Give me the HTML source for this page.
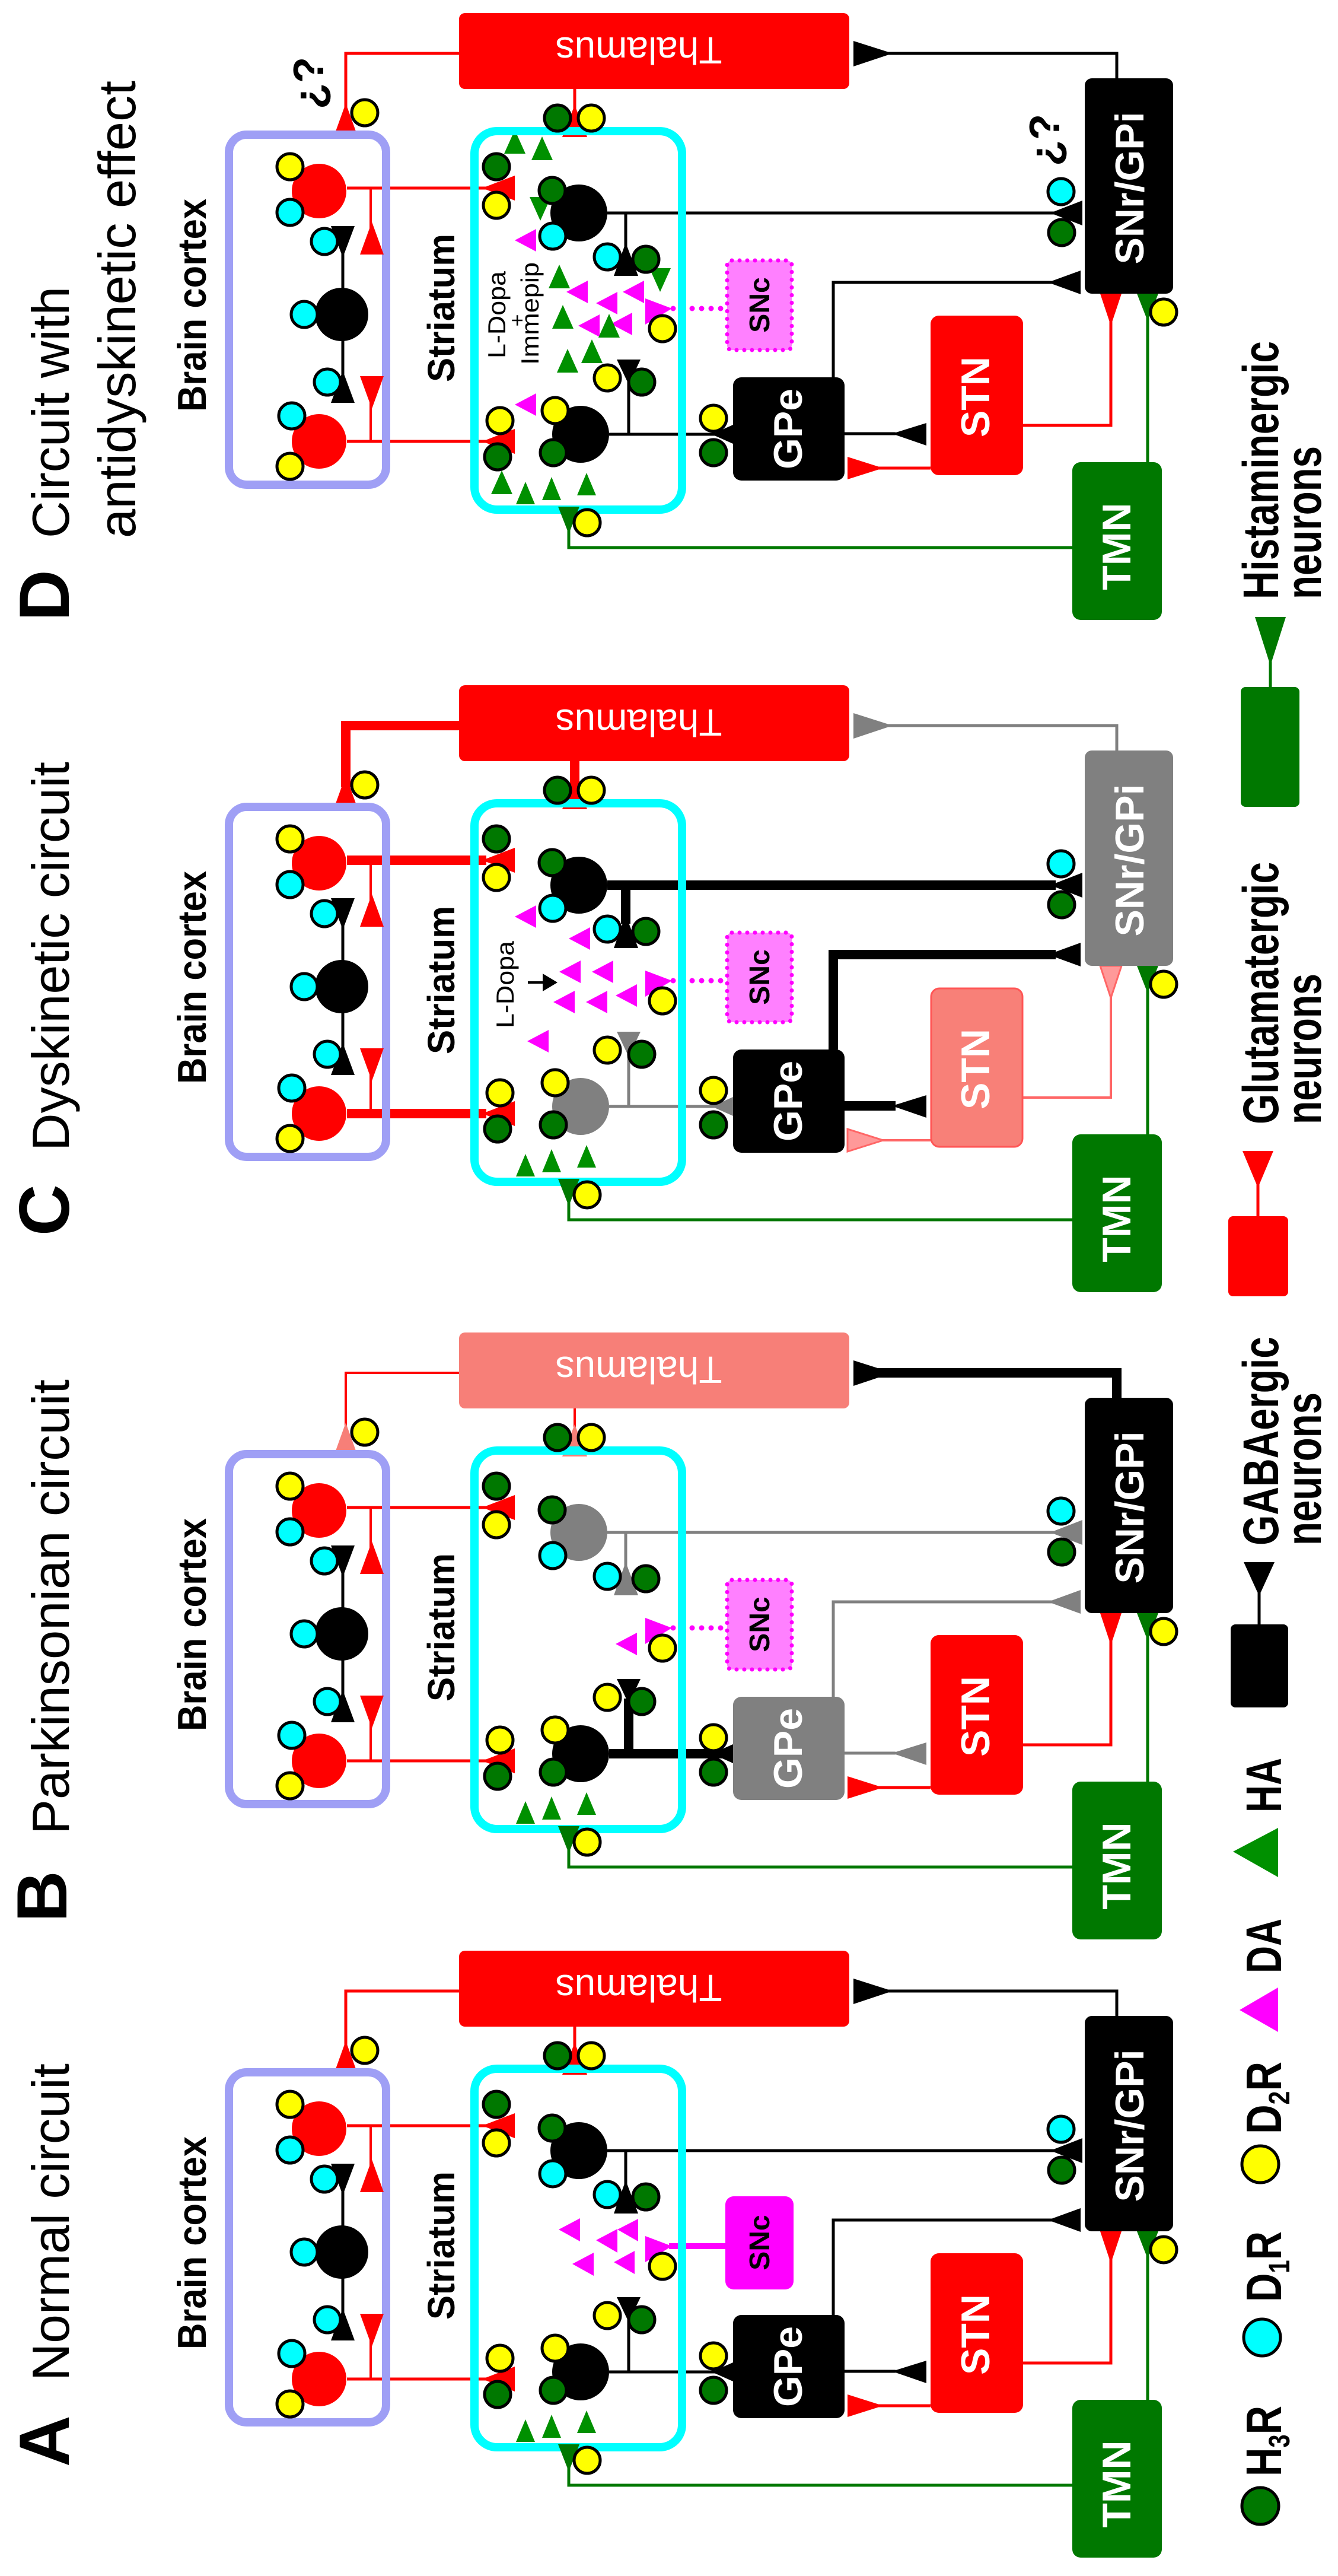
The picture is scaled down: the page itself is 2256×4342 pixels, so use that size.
<!DOCTYPE html>
<html><head><meta charset="utf-8"><style>
html,body{margin:0;padding:0;background:#fff}
svg{display:block}
text{font-family:"Liberation Sans",Arial,sans-serif}
.y{fill:#ffff00;stroke:#000;stroke-width:5}
.c{fill:#00ffff;stroke:#000;stroke-width:5}
.g{fill:#007800;stroke:#000;stroke-width:5}
</style></head><body>
<svg width="2256" height="4342" viewBox="0 0 2256 4342" xmlns="http://www.w3.org/2000/svg">
<defs>
<g id="base">
  <!-- cortex -->
  <rect x="386" y="3493" width="265" height="590" rx="30" fill="none" stroke="#9f9ff5" stroke-width="14"/>
  <line x1="578" y1="3670" x2="578" y2="3929" stroke="#000" stroke-width="5"/>
  <polygon points="558,3647 598,3647 578,3700" fill="#000"/>
  <polygon points="558,3945 598,3945 578,3891" fill="#000"/>
  <line x1="625" y1="3583" x2="625" y2="3660" stroke="#f00" stroke-width="4"/>
  <line x1="625" y1="3930" x2="625" y2="4010" stroke="#f00" stroke-width="4"/>
  <polygon points="627,3640 607,3695 647,3695" fill="#f00"/>
  <polygon points="607,3900 647,3900 627,3955" fill="#f00"/>
  <circle cx="538" cy="3588" r="46" fill="#f00"/>
  <circle cx="538" cy="4010" r="46" fill="#f00"/>
  <circle cx="576" cy="3796" r="45" fill="#000"/>
  <!-- striatum -->
  <rect x="800" y="3487" width="350" height="638" rx="38" fill="none" stroke="#00ffff" stroke-width="14"/>
  <!-- HA -->
  <polygon points="886,4078 870,4116 902,4116" fill="#009000"/>
  <polygon points="930,4070 914,4109 946,4109" fill="#009000"/>
  <polygon points="989,4063 973,4101 1005,4101" fill="#009000"/>
  <!-- TMN -->
  <polyline points="1808,4189 959,4189 959,4150" fill="none" stroke="#007800" stroke-width="5"/>
  <polygon points="959,4166 941,4120 977,4120" fill="#007800"/>
  <line x1="1935" y1="4045" x2="1935" y2="3800" stroke="#007800" stroke-width="5"/>
  <polygon points="1935,3807 1917,3761 1953,3761" fill="#007800"/>
  <rect x="1808" y="4045" width="151" height="266" rx="14" fill="#007800"/>
</g>
<g id="rec">
  <circle class="y" cx="489" cy="3547" r="22"/><circle class="c" cx="489" cy="3624" r="22"/>
  <circle class="c" cx="492" cy="3967" r="22"/><circle class="y" cx="489" cy="4052" r="22"/>
  <circle class="c" cx="513" cy="3796" r="22"/><circle class="c" cx="547" cy="3673" r="22"/>
  <circle class="c" cx="552" cy="3910" r="22"/>
  <circle class="y" cx="615" cy="3456" r="22"/>
  <circle class="g" cx="940" cy="3465" r="22"/><circle class="y" cx="997" cy="3465" r="22"/>
  <circle class="g" cx="837" cy="3547" r="22"/><circle class="y" cx="837" cy="3612" r="22"/>
  <circle class="y" cx="843" cy="3975" r="22"/><circle class="g" cx="839" cy="4036" r="22"/>
  <circle class="g" cx="931" cy="3587" r="22"/><circle class="c" cx="932" cy="3664" r="22"/>
  <circle class="c" cx="1024" cy="3699" r="22"/><circle class="g" cx="1089" cy="3703" r="22"/>
  <circle class="y" cx="936" cy="3958" r="22"/><circle class="g" cx="933" cy="4029" r="22"/>
  <circle class="y" cx="1024" cy="3903" r="22"/><circle class="g" cx="1082" cy="3910" r="22"/>
  <circle class="y" cx="1203" cy="3971" r="22"/><circle class="g" cx="1203" cy="4029" r="22"/>
  <circle class="c" cx="1789" cy="3589" r="22"/><circle class="g" cx="1790" cy="3658" r="22"/>
  <circle class="y" cx="1117" cy="3820" r="22"/>
  <circle class="y" cx="990" cy="4147" r="22"/>
  <circle class="y" cx="1962" cy="3792" r="22"/>
</g>
</defs>

<!-- ================= PANEL A ================= -->
<g>
  <g fill="none" stroke="#f00" stroke-width="5">
    <polyline points="774,3356 583,3356 583,3460"/>
    <line x1="969" y1="3416" x2="969" y2="3460"/>
    <line x1="585" y1="3583" x2="820" y2="3583"/><line x1="585" y1="4010" x2="820" y2="4010"/>
    <polyline points="1725,3983 1873,3983 1873,3800"/>
    <line x1="1569" y1="4055" x2="1470" y2="4055"/>
  </g>
  <g fill="#f00">
    <polygon points="583,3440 565,3490 601,3490"/><polygon points="969,3443 948,3497 990,3497"/>
    <polygon points="813,3583 868,3562 868,3604"/><polygon points="813,4010 868,3989 868,4031"/>
    <polygon points="1873,3815 1855,3761 1891,3761"/><polygon points="1429,4036 1429,4074 1489,4055"/>
  </g>
  <g fill="none" stroke="#000" stroke-width="5">
    <line x1="1024" y1="3625" x2="1780" y2="3625"/><line x1="1055" y1="3625" x2="1055" y2="3690"/>
    <line x1="1027" y1="3998" x2="1236" y2="3998"/><line x1="1060" y1="3998" x2="1060" y2="3900"/>
    <polyline points="1883,3398 1883,3356 1460,3356"/>
    <polyline points="1405,3902 1405,3742 1780,3742"/>
    <line x1="1424" y1="3997" x2="1510" y2="3997"/>
  </g>
  <g fill="#000">
    <polygon points="1771,3625 1825,3604 1825,3646"/><polygon points="1055,3675 1035,3731 1076,3731"/>
    <polygon points="1200,3998 1236,3982 1236,4014"/><polygon points="1060,3914 1040,3872 1080,3872"/>
    <polygon points="1439,3335 1439,3378 1505,3356"/><polygon points="1767,3742 1822,3722 1822,3762"/>
    <polygon points="1504,3997 1562,3979 1562,4017"/>
  </g>
  <line x1="1128" y1="3786" x2="1223" y2="3786" stroke="#ff00ff" stroke-width="10"/>
  <polygon points="1088,3769 1088,3813 1133,3786" fill="#ff00ff"/>
  <g fill="#ff00ff">
    <polygon points="942,3758 978,3739 978,3778"/><polygon points="1005,3776 1041,3757 1041,3797"/>
    <polygon points="1041,3758 1076,3740 1076,3778"/><polygon points="965,3816 1001,3797 1001,3836"/>
    <polygon points="1035,3813 1070,3794 1070,3833"/>
  </g>
  <use href="#base"/>
  <circle cx="976" cy="3625" r="48" fill="#000"/><circle cx="979" cy="3998" r="48" fill="#000"/>
  <rect x="774" y="3288" width="658" height="128" rx="10" fill="#f00"/>
  <rect x="1829" y="3398" width="149" height="363" rx="12" fill="#000"/>
  <rect x="1236" y="3902" width="188" height="174" rx="14" fill="#000"/>
  <rect x="1569" y="3798" width="156" height="269" rx="14" fill="#f00"/>
  <rect x="1223" y="3702" width="115" height="157" rx="14" fill="#ff00ff"/>
  <use href="#rec"/>
  <text transform="translate(1077,3329) rotate(180)" font-size="64" fill="#fff" text-anchor="middle">Thalamus</text>
  <text transform="translate(1928,3583) rotate(-90)" font-size="68" font-weight="bold" fill="#fff" text-anchor="middle">SNr/GPi</text>
  <text transform="translate(1352,3989) rotate(-90)" font-size="68" font-weight="bold" fill="#fff" text-anchor="middle">GPe</text>
  <text transform="translate(1668,3935) rotate(-90)" font-size="68" font-weight="bold" fill="#fff" text-anchor="middle">STN</text>
  <text transform="translate(1297,3780) rotate(-90)" font-size="48" font-weight="bold" fill="#000" text-anchor="middle">SNc</text>
  <text transform="translate(1906,4187) rotate(-90)" font-size="68" font-weight="bold" fill="#fff" text-anchor="middle">TMN</text>
  <text transform="translate(347,3960) rotate(-90)" font-size="68" font-weight="bold" textLength="359" lengthAdjust="spacingAndGlyphs">Brain cortex</text>
  <text transform="translate(766,3910) rotate(-90)" font-size="64" font-weight="bold" textLength="250" lengthAdjust="spacingAndGlyphs">Striatum</text>
</g>

<!-- ================= PANEL B ================= -->
<g transform="translate(0,-1042)">
  <g fill="none" stroke="#f00" stroke-width="4">
    <polyline points="774,3356 583,3356 583,3460"/>
    <line x1="969" y1="3330" x2="969" y2="3460"/>
  </g>
  <g fill="none" stroke="#f00" stroke-width="5">
    <line x1="585" y1="3583" x2="820" y2="3583"/><line x1="585" y1="4010" x2="820" y2="4010"/>
    <polyline points="1725,3983 1873,3983 1873,3800"/>
    <line x1="1569" y1="4055" x2="1470" y2="4055"/>
  </g>
  <g fill="#f77f78">
    <polygon points="583,3440 565,3490 601,3490"/><polygon points="969,3443 948,3497 990,3497"/>
  </g>
  <g fill="#f00">
    <polygon points="813,3583 868,3562 868,3604"/><polygon points="813,4010 868,3989 868,4031"/>
    <polygon points="1873,3815 1855,3761 1891,3761"/><polygon points="1429,4036 1429,4074 1489,4055"/>
  </g>
  <g fill="none" stroke="#808080" stroke-width="5">
    <line x1="1024" y1="3625" x2="1780" y2="3625"/><line x1="1055" y1="3625" x2="1055" y2="3690"/>
    <polyline points="1405,3902 1405,3742 1780,3742"/>
    <line x1="1424" y1="3997" x2="1510" y2="3997"/>
  </g>
  <g fill="#808080">
    <polygon points="1771,3625 1825,3604 1825,3646"/><polygon points="1055,3675 1035,3731 1076,3731"/>
    <polygon points="1767,3742 1822,3722 1822,3762"/><polygon points="1504,3997 1562,3979 1562,4017"/>
  </g>
  <g fill="none" stroke="#000" stroke-width="16">
    <line x1="1027" y1="3998" x2="1225" y2="3998"/><line x1="1060" y1="3998" x2="1060" y2="3905"/>
    <polyline points="1883,3398 1883,3356 1470,3356"/>
  </g>
  <g fill="#000">
    <polygon points="1200,3998 1236,3982 1236,4014"/><polygon points="1060,3914 1040,3872 1080,3872"/>
    <polygon points="1439,3335 1439,3378 1505,3356"/>
  </g>
  <line x1="1135" y1="3786" x2="1223" y2="3786" stroke="#ff00ff" stroke-width="9" stroke-dasharray="0 16" stroke-linecap="round"/>
  <polygon points="1088,3769 1088,3813 1133,3786" fill="#ff00ff"/>
  <polygon points="1038,3813 1074,3794 1074,3832" fill="#ff00ff"/>
  <use href="#base"/>
  <circle cx="976" cy="3625" r="48" fill="#808080"/><circle cx="979" cy="3998" r="48" fill="#000"/>
  <rect x="774" y="3288" width="658" height="128" rx="10" fill="#f77f78"/>
  <rect x="1829" y="3398" width="149" height="363" rx="12" fill="#000"/>
  <rect x="1236" y="3902" width="188" height="174" rx="14" fill="#808080"/>
  <rect x="1569" y="3798" width="156" height="269" rx="14" fill="#f00"/>
  <rect x="1226" y="3705" width="109" height="151" rx="8" fill="#ff80ff" stroke="#ff00ff" stroke-width="7" stroke-dasharray="0 13" stroke-linecap="round"/>
  <use href="#rec"/>
  <text transform="translate(1077,3329) rotate(180)" font-size="64" fill="#fff" text-anchor="middle">Thalamus</text>
  <text transform="translate(1928,3583) rotate(-90)" font-size="68" font-weight="bold" fill="#fff" text-anchor="middle">SNr/GPi</text>
  <text transform="translate(1352,3989) rotate(-90)" font-size="68" font-weight="bold" fill="#fff" text-anchor="middle">GPe</text>
  <text transform="translate(1668,3935) rotate(-90)" font-size="68" font-weight="bold" fill="#fff" text-anchor="middle">STN</text>
  <text transform="translate(1297,3780) rotate(-90)" font-size="48" font-weight="bold" fill="#000" text-anchor="middle">SNc</text>
  <text transform="translate(1906,4187) rotate(-90)" font-size="68" font-weight="bold" fill="#fff" text-anchor="middle">TMN</text>
  <text transform="translate(347,3960) rotate(-90)" font-size="68" font-weight="bold" textLength="359" lengthAdjust="spacingAndGlyphs">Brain cortex</text>
  <text transform="translate(766,3910) rotate(-90)" font-size="64" font-weight="bold" textLength="250" lengthAdjust="spacingAndGlyphs">Striatum</text>
</g>

<!-- ================= PANEL C ================= -->
<g transform="translate(0,-2133)">
  <g fill="none" stroke="#f00" stroke-width="16">
    <polyline points="774,3356 583,3356 583,3460"/>
    <line x1="969" y1="3416" x2="969" y2="3460"/>
    <line x1="585" y1="3583" x2="820" y2="3583"/><line x1="585" y1="4010" x2="820" y2="4010"/>
  </g>
  <g fill="#f00">
    <polygon points="583,3440 565,3490 601,3490"/><polygon points="969,3443 948,3497 990,3497"/>
    <polygon points="813,3583 868,3562 868,3604"/><polygon points="813,4010 868,3989 868,4031"/>
  </g>
  <g fill="none" stroke="#f66" stroke-width="4">
    <polyline points="1725,3983 1873,3983 1873,3800"/>
    <line x1="1569" y1="4055" x2="1470" y2="4055"/>
  </g>
  <g fill="#f99" stroke="#f66" stroke-width="3">
    <polygon points="1873,3815 1855,3761 1891,3761"/><polygon points="1429,4036 1429,4074 1489,4055"/>
  </g>
  <g fill="none" stroke="#000" stroke-width="16">
    <line x1="1024" y1="3625" x2="1780" y2="3625"/><line x1="1055" y1="3625" x2="1055" y2="3690"/>
    <polyline points="1405,3902 1405,3742 1780,3742"/>
    <line x1="1424" y1="3997" x2="1510" y2="3997"/>
  </g>
  <g fill="#000">
    <polygon points="1771,3625 1825,3604 1825,3646"/><polygon points="1055,3675 1035,3731 1076,3731"/>
    <polygon points="1767,3742 1822,3722 1822,3762"/><polygon points="1504,3997 1562,3979 1562,4017"/>
  </g>
  <g fill="none" stroke="#808080" stroke-width="5">
    <line x1="1027" y1="3998" x2="1236" y2="3998"/><line x1="1060" y1="3998" x2="1060" y2="3900"/>
    <polyline points="1883,3398 1883,3356 1460,3356"/>
  </g>
  <g fill="#808080">
    <polygon points="1200,3998 1236,3982 1236,4014"/><polygon points="1060,3914 1040,3872 1080,3872"/>
    <polygon points="1439,3335 1439,3378 1505,3356"/>
  </g>
  <line x1="1135" y1="3786" x2="1223" y2="3786" stroke="#ff00ff" stroke-width="9" stroke-dasharray="0 16" stroke-linecap="round"/>
  <polygon points="1088,3769 1088,3813 1133,3786" fill="#ff00ff"/>
  <g fill="#ff00ff">
    <polygon points="868,3678 904,3659 904,3697"/><polygon points="959,3715 995,3696 995,3734"/>
    <polygon points="943,3771 979,3752 979,3790"/><polygon points="998,3771 1034,3752 1034,3790"/>
    <polygon points="933,3822 969,3803 969,3841"/><polygon points="988,3822 1024,3803 1024,3841"/>
    <polygon points="1038,3811 1074,3792 1074,3830"/><polygon points="889,3888 925,3869 925,3907"/>
  </g>
  <line x1="890" y1="3789" x2="922" y2="3789" stroke="#000" stroke-width="4"/>
  <polygon points="940,3789 915,3774 915,3804" fill="#000"/>
  <use href="#base"/>
  <circle cx="976" cy="3625" r="48" fill="#000"/><circle cx="979" cy="3998" r="48" fill="#808080"/>
  <rect x="774" y="3288" width="658" height="128" rx="10" fill="#f00"/>
  <rect x="1829" y="3398" width="149" height="363" rx="12" fill="#808080"/>
  <rect x="1236" y="3902" width="188" height="174" rx="14" fill="#000"/>
  <rect x="1570" y="3799" width="154" height="267" rx="14" fill="#f88078" stroke="#f55" stroke-width="3"/>
  <rect x="1226" y="3705" width="109" height="151" rx="8" fill="#ff80ff" stroke="#ff00ff" stroke-width="7" stroke-dasharray="0 13" stroke-linecap="round"/>
  <use href="#rec"/>
  <text transform="translate(1077,3329) rotate(180)" font-size="64" fill="#fff" text-anchor="middle">Thalamus</text>
  <text transform="translate(1928,3583) rotate(-90)" font-size="68" font-weight="bold" fill="#fff" text-anchor="middle">SNr/GPi</text>
  <text transform="translate(1352,3989) rotate(-90)" font-size="68" font-weight="bold" fill="#fff" text-anchor="middle">GPe</text>
  <text transform="translate(1668,3935) rotate(-90)" font-size="68" font-weight="bold" fill="#fff" text-anchor="middle">STN</text>
  <text transform="translate(1297,3780) rotate(-90)" font-size="48" font-weight="bold" fill="#000" text-anchor="middle">SNc</text>
  <text transform="translate(1906,4187) rotate(-90)" font-size="68" font-weight="bold" fill="#fff" text-anchor="middle">TMN</text>
  <text transform="translate(347,3960) rotate(-90)" font-size="68" font-weight="bold" textLength="359" lengthAdjust="spacingAndGlyphs">Brain cortex</text>
  <text transform="translate(766,3910) rotate(-90)" font-size="64" font-weight="bold" textLength="250" lengthAdjust="spacingAndGlyphs">Striatum</text>
  <text transform="translate(866,3866) rotate(-90)" font-size="42" textLength="147" lengthAdjust="spacingAndGlyphs">L-Dopa</text>
</g>

<!-- ================= PANEL D ================= -->
<g transform="translate(0,-3266)">
  <g fill="none" stroke="#f00" stroke-width="5">
    <polyline points="774,3356 583,3356 583,3460"/>
    <line x1="969" y1="3416" x2="969" y2="3460"/>
    <line x1="585" y1="3583" x2="820" y2="3583"/><line x1="585" y1="4010" x2="820" y2="4010"/>
    <polyline points="1725,3983 1873,3983 1873,3800"/>
    <line x1="1569" y1="4055" x2="1470" y2="4055"/>
  </g>
  <g fill="#f00">
    <polygon points="583,3440 565,3490 601,3490"/><polygon points="969,3443 948,3497 990,3497"/>
    <polygon points="813,3583 868,3562 868,3604"/><polygon points="813,4010 868,3989 868,4031"/>
    <polygon points="1873,3815 1855,3761 1891,3761"/><polygon points="1429,4036 1429,4074 1489,4055"/>
  </g>
  <g fill="none" stroke="#000" stroke-width="5">
    <line x1="1024" y1="3625" x2="1780" y2="3625"/><line x1="1055" y1="3625" x2="1055" y2="3690"/>
    <line x1="1027" y1="3998" x2="1236" y2="3998"/><line x1="1060" y1="3998" x2="1060" y2="3900"/>
    <polyline points="1883,3398 1883,3356 1460,3356"/>
    <polyline points="1405,3902 1405,3742 1780,3742"/>
    <line x1="1424" y1="3997" x2="1510" y2="3997"/>
  </g>
  <g fill="#000">
    <polygon points="1771,3625 1825,3604 1825,3646"/><polygon points="1055,3675 1035,3731 1076,3731"/>
    <polygon points="1200,3998 1236,3982 1236,4014"/><polygon points="1060,3914 1040,3872 1080,3872"/>
    <polygon points="1439,3335 1439,3378 1505,3356"/><polygon points="1767,3742 1822,3722 1822,3762"/>
    <polygon points="1504,3997 1562,3979 1562,4017"/>
  </g>
  <line x1="1135" y1="3786" x2="1223" y2="3786" stroke="#ff00ff" stroke-width="9" stroke-dasharray="0 16" stroke-linecap="round"/>
  <polygon points="1088,3769 1088,3813 1133,3786" fill="#ff00ff"/>
  <g fill="#ff00ff">
    <polygon points="868,3671 904,3652 904,3690"/><polygon points="955,3758 991,3739 991,3777"/>
    <polygon points="1005,3777 1041,3758 1041,3796"/><polygon points="1050,3758 1086,3739 1086,3777"/>
    <polygon points="975,3815 1011,3796 1011,3834"/><polygon points="1030,3812 1066,3793 1066,3831"/>
    <polygon points="868,3948 904,3929 904,3967"/>
  </g>
  <g fill="#009000">
    <polygon points="868,3485 850,3525 886,3525"/><polygon points="914,3496 896,3536 932,3536"/>
    <polygon points="911,3638 893,3598 929,3598"/><polygon points="943,3712 925,3752 961,3752"/>
    <polygon points="949,3780 931,3820 967,3820"/><polygon points="1027,3795 1009,3835 1045,3835"/>
    <polygon points="998,3838 980,3878 1016,3878"/><polygon points="957,3854 939,3894 975,3894"/>
    <polygon points="1113,3758 1095,3718 1131,3718"/><polygon points="846,4059 828,4099 864,4099"/>
  </g>
  <use href="#base"/>
  <circle cx="976" cy="3625" r="48" fill="#000"/><circle cx="979" cy="3998" r="48" fill="#000"/>
  <rect x="774" y="3288" width="658" height="128" rx="10" fill="#f00"/>
  <rect x="1829" y="3398" width="149" height="363" rx="12" fill="#000"/>
  <rect x="1236" y="3902" width="188" height="174" rx="14" fill="#000"/>
  <rect x="1569" y="3798" width="156" height="269" rx="14" fill="#f00"/>
  <rect x="1226" y="3705" width="109" height="151" rx="8" fill="#ff80ff" stroke="#ff00ff" stroke-width="7" stroke-dasharray="0 13" stroke-linecap="round"/>
  <use href="#rec"/>
  <text transform="translate(1077,3329) rotate(180)" font-size="64" fill="#fff" text-anchor="middle">Thalamus</text>
  <text transform="translate(1928,3583) rotate(-90)" font-size="68" font-weight="bold" fill="#fff" text-anchor="middle">SNr/GPi</text>
  <text transform="translate(1352,3989) rotate(-90)" font-size="68" font-weight="bold" fill="#fff" text-anchor="middle">GPe</text>
  <text transform="translate(1668,3935) rotate(-90)" font-size="68" font-weight="bold" fill="#fff" text-anchor="middle">STN</text>
  <text transform="translate(1297,3780) rotate(-90)" font-size="48" font-weight="bold" fill="#000" text-anchor="middle">SNc</text>
  <text transform="translate(1906,4187) rotate(-90)" font-size="68" font-weight="bold" fill="#fff" text-anchor="middle">TMN</text>
  <text transform="translate(347,3960) rotate(-90)" font-size="68" font-weight="bold" textLength="359" lengthAdjust="spacingAndGlyphs">Brain cortex</text>
  <text transform="translate(766,3910) rotate(-90)" font-size="64" font-weight="bold" textLength="250" lengthAdjust="spacingAndGlyphs">Striatum</text>
  <text transform="translate(852,3870) rotate(-90)" font-size="42" textLength="147" lengthAdjust="spacingAndGlyphs">L-Dopa</text>
  <text transform="translate(884,3806) rotate(-90)" font-size="36" text-anchor="middle">+</text>
  <text transform="translate(908,3881) rotate(-90)" font-size="42" textLength="173" lengthAdjust="spacingAndGlyphs">Immepip</text>
  <text transform="translate(545,3450) rotate(-90)" font-size="72" font-weight="bold">¿?</text>
  <text transform="translate(1786,3546) rotate(-90)" font-size="72" font-weight="bold">¿?</text>
</g>

<!-- ================= TITLES ================= -->
<g font-size="120" font-weight="bold">
  <text transform="translate(116,4158) rotate(-90)">A</text>
  <text transform="translate(112,3240) rotate(-90)">B</text>
  <text transform="translate(116,2083) rotate(-90)">C</text>
  <text transform="translate(116,1047) rotate(-90)">D</text>
</g>
<g font-size="88">
  <text transform="translate(116,4013) rotate(-90)" textLength="535" lengthAdjust="spacingAndGlyphs">Normal circuit</text>
  <text transform="translate(116,3092) rotate(-90)" textLength="767" lengthAdjust="spacingAndGlyphs">Parkinsonian circuit</text>
  <text transform="translate(116,1940) rotate(-90)" textLength="656" lengthAdjust="spacingAndGlyphs">Dyskinetic circuit</text>
  <text transform="translate(116,907) rotate(-90)" textLength="424" lengthAdjust="spacingAndGlyphs">Circuit with</text>
  <text transform="translate(228,907) rotate(-90)" textLength="771" lengthAdjust="spacingAndGlyphs">antidyskinetic effect</text>
</g>

<!-- ================= LEGEND ================= -->
<circle class="g" cx="2125" cy="4224" r="31"/>
<circle class="c" cx="2128" cy="3940" r="31"/>
<circle class="y" cx="2125" cy="3648" r="31"/>
<polygon points="2090,3388 2155,3350 2155,3425" fill="#ff00ff"/>
<polygon points="2079,3121 2155,3081 2155,3164" fill="#009000"/>
<g font-size="84" font-weight="bold">
  <text transform="translate(2160,4174) rotate(-90)" textLength="119" lengthAdjust="spacingAndGlyphs">H<tspan font-size="50" dy="14">3</tspan><tspan dy="-14">R</tspan></text>
  <text transform="translate(2160,3880) rotate(-90)" textLength="119" lengthAdjust="spacingAndGlyphs">D<tspan font-size="50" dy="14">1</tspan><tspan dy="-14">R</tspan></text>
  <text transform="translate(2160,3597) rotate(-90)" textLength="122" lengthAdjust="spacingAndGlyphs">D<tspan font-size="50" dy="14">2</tspan><tspan dy="-14">R</tspan></text>
  <text transform="translate(2160,3326) rotate(-90)" textLength="92" lengthAdjust="spacingAndGlyphs">DA</text>
  <text transform="translate(2160,3055) rotate(-90)" textLength="92" lengthAdjust="spacingAndGlyphs">HA</text>
  <text transform="translate(2155,2605) rotate(-90)" textLength="352" lengthAdjust="spacingAndGlyphs">GABAergic</text>
  <text transform="translate(2227,2605) rotate(-90)" textLength="258" lengthAdjust="spacingAndGlyphs">neurons</text>
  <text transform="translate(2155,1895) rotate(-90)" textLength="442" lengthAdjust="spacingAndGlyphs">Glutamatergic</text>
  <text transform="translate(2227,1895) rotate(-90)" textLength="254" lengthAdjust="spacingAndGlyphs">neurons</text>
  <text transform="translate(2155,1010) rotate(-90)" textLength="435" lengthAdjust="spacingAndGlyphs">Histaminergic</text>
  <text transform="translate(2227,1010) rotate(-90)" textLength="258" lengthAdjust="spacingAndGlyphs">neurons</text>
</g>
<rect x="2075" y="2738" width="97" height="140" rx="8" fill="#000"/>
<line x1="2123" y1="2685" x2="2123" y2="2740" stroke="#000" stroke-width="5"/>
<polygon points="2097,2633 2149,2633 2123,2690" fill="#000"/>
<rect x="2071" y="2050" width="101" height="135" rx="8" fill="#f00"/>
<line x1="2121" y1="1995" x2="2121" y2="2052" stroke="#f00" stroke-width="5"/>
<polygon points="2095,1940 2147,1940 2121,2002" fill="#f00"/>
<rect x="2092" y="1158" width="99" height="202" rx="8" fill="#007800"/>
<line x1="2142" y1="1115" x2="2142" y2="1160" stroke="#007800" stroke-width="5"/>
<polygon points="2116,1040 2168,1040 2142,1122" fill="#007800"/>
</svg>
</body></html>
